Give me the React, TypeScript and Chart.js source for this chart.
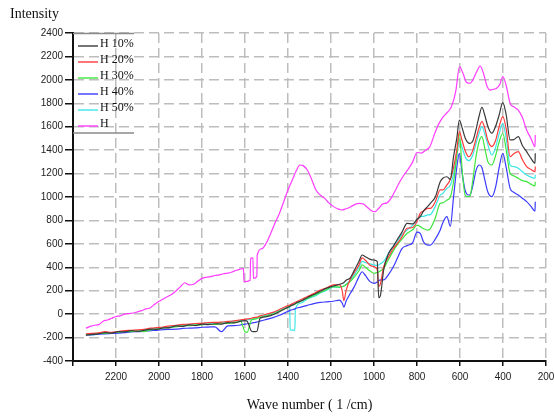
import React, { useEffect, useRef } from "react";
import { Chart, registerables } from "chart.js";

Chart.register(...registerables);

// Wave numbers shared by the five sample spectra (1/cm)
const waveNumbers = [
  2340, 2310, 2280, 2250, 2220, 2190, 2160, 2130, 2100, 2070,
  2040, 2010, 1980, 1950, 1920, 1890, 1860, 1830, 1800, 1770,
  1740, 1710, 1680, 1650, 1620, 1600, 1590, 1570, 1560, 1545,
  1530, 1500, 1470, 1440, 1410, 1392, 1390, 1368, 1366, 1340,
  1310, 1280, 1250, 1220, 1190, 1160, 1148, 1140, 1130, 1110,
  1090, 1070, 1055, 1040, 1020, 1000, 985, 978, 970, 955,
  932, 910, 893, 870, 846, 820, 800, 785, 770, 750,
  738, 715, 692, 680, 661, 645, 630, 615, 603, 590,
  575, 560, 553, 540, 525, 510, 498, 485, 470, 452,
  435, 418, 401, 385, 367, 350, 329, 310, 290, 270,
  251, 250,
];

const h10 = [
  -180, -172, -168, -158, -162, -150, -152, -140, -148, -138,
  -128, -130, -118, -115, -100, -105, -92, -98, -85, -90,
  -82, -85, -72, -75, -60, -55, -60, -145, -150, -148,
  -35, -22, -5, 20, 50, 65, 68, 88, 92, 112,
  142, 168, 195, 222, 240, 255, 262, 270, 290, 310,
  380, 450, 505, 490, 470, 462, 450, 140, 160, 377,
  519, 580, 633, 700, 775, 770, 810, 832, 880, 920,
  946, 1000, 1131, 1160, 1173, 1150, 1344, 1500, 1657, 1590,
  1500, 1460, 1458, 1480, 1580, 1700, 1766, 1700, 1600, 1544,
  1600, 1700, 1806, 1700, 1487, 1490, 1515, 1440, 1387, 1330,
  1288, 1373,
];

const h20 = [
  -168, -165, -160, -150, -155, -148, -140, -138, -135, -130,
  -120, -115, -110, -100, -95, -88, -85, -80, -78, -72,
  -70, -68, -62, -58, -48, -45, -40, -35, -30, -25,
  -15, 0, 15, 40, 65, 78, 80, 100, 102, 125,
  150, 175, 205, 225, 250, 250, 200, 115, 200, 300,
  360, 420, 480, 460, 420, 405, 380, 234, 260, 405,
  490, 560, 600, 660, 733, 740, 790, 861, 880, 903,
  903, 960, 1060, 1060, 1103, 1150, 1250, 1400, 1558, 1480,
  1390, 1344, 1350, 1400, 1500, 1600, 1643, 1590, 1480, 1430,
  1480, 1600, 1686, 1580, 1344, 1370, 1387, 1320, 1259, 1235,
  1216, 1260,
];

const h30 = [
  -175, -170, -162, -165, -158, -155, -148, -150, -142, -150,
  -135, -128, -118, -115, -108, -100, -98, -92, -92, -85,
  -88, -80, -78, -72, -62, -150, -155, -50, -45, -38,
  -28, -15, 0, 25, 50, 68, 70, 85, 88, 110,
  135, 160, 185, 210, 235, 230, 235, 240, 250, 280,
  320, 370, 420, 400, 370, 349, 355, 360, 370, 391,
  470, 540, 590, 640, 690, 720, 760, 747, 730, 718,
  730, 820, 946, 950, 974, 1000, 1130, 1350, 1544, 1230,
  1010, 1003, 1010, 1150, 1350, 1480, 1515, 1420, 1300, 1273,
  1350, 1470, 1544, 1400, 1202, 1180, 1160, 1140, 1131, 1110,
  1095, 1130,
];

const h40 = [
  -178, -175, -170, -168, -165, -162, -158, -152, -150, -148,
  -140, -138, -132, -130, -128, -122, -120, -118, -112, -110,
  -108, -150, -100, -98, -92, -85, -82, -78, -72, -68,
  -60, -45, -30, -10, 15, 30, 32, 45, 48, 60,
  75, 90, 100, 105, 110, 120, 95, 60, 110, 178,
  240, 320, 362, 330, 280, 263, 275, 285, 292, 292,
  340, 405, 470, 560, 585, 610, 700, 690, 618, 590,
  590, 640, 718, 780, 832, 750, 1000, 1250, 1373, 1200,
  1050, 1017, 1020, 1100, 1230, 1273, 1250, 1150, 1040, 1003,
  1080, 1250, 1373, 1250, 1074, 1040, 1017, 990, 960, 920,
  880, 960,
];

const h50 = [
  -172, -178, -168, -165, -160, -158, -150, -148, -140, -138,
  -128, -120, -115, -108, -100, -95, -90, -85, -80, -78,
  -75, -70, -65, -60, -55, -50, -48, -42, -38, -32,
  -22, -8, 8, 30, 55, 68, -135, -138, 40, 95,
  130, 150, 180, 205, 230, 230, 235, 240, 255, 290,
  340, 400, 450, 440, 430, 420, 415, 420, 430, 450,
  519, 580, 620, 680, 718, 760, 800, 832, 835, 847,
  850, 920, 1017, 1030, 1074, 1100, 1200, 1350, 1487, 1420,
  1340, 1310, 1316, 1360, 1460, 1550, 1600, 1540, 1444, 1358,
  1420, 1540, 1629, 1500, 1273, 1260, 1245, 1215, 1188, 1170,
  1160, 1190,
];

// Pure H spectrum (own wave-number sampling)
const waveH = [
  2340, 2320, 2300, 2280, 2260, 2240, 2220, 2200, 2180, 2160,
  2140, 2120, 2100, 2080, 2060, 2040, 2020, 2000, 1980, 1960,
  1940, 1920, 1900, 1880, 1860, 1840, 1820, 1800, 1780, 1760,
  1740, 1720, 1700, 1680, 1660, 1640, 1620, 1607, 1605, 1576,
  1574, 1563, 1561, 1545, 1543, 1520, 1500, 1480, 1460, 1440,
  1420, 1400, 1380, 1360, 1345, 1330, 1310, 1290, 1270, 1250,
  1230, 1210, 1190, 1170, 1150, 1130, 1110, 1090, 1070, 1050,
  1030, 1010, 995, 980, 960, 940, 920, 900, 880, 860,
  840, 820, 800, 780, 760, 740, 720, 700, 680, 660,
  640, 620, 602, 585, 570, 553, 540, 525, 506, 490,
  475, 460, 445, 430, 415, 401, 385, 367, 350, 330,
  310, 290, 270, 251, 250,
];

const intensityH = [
  -120, -105, -95, -90, -60, -50, -35, -20, -15, 0,
  5, 10, 20, 30, 45, 55, 85, 110, 130, 150,
  170, 200, 235, 268, 250, 255, 280, 305, 315, 320,
  330, 335, 345, 350, 360, 375, 385, 391, 277, 290,
  477, 480, 306, 320, 505, 560, 610, 690, 780, 860,
  960, 1060, 1145, 1230, 1273, 1268, 1230, 1150, 1060, 1017,
  990, 950, 920, 900, 889, 900, 915, 935, 946, 940,
  910, 880, 875, 900, 940, 950, 990, 1060, 1130, 1190,
  1240, 1300, 1380, 1375, 1400, 1430, 1530, 1620, 1680, 1720,
  1770, 1900, 2113, 2050, 1980, 1971, 2000, 2060, 2118, 2050,
  1950, 1913, 1920, 1928, 1960, 2027, 1950, 1800, 1770, 1743,
  1680, 1572, 1500, 1430, 1530,
];

const seriesLabels = ["H 10%", "H 20%", "H 30%", "H 40%", "H 50%", "H"];
const seriesColors = ["#3a3a3a", "#ff3b3b", "#3ee63e", "#3b3bff", "#3ee6e6", "#ff3cff"];

const X_MIN = 200;
const X_MAX = 2400;
const Y_MIN = -400;
const Y_MAX = 2400;
const STEP = 200;

const toPoints = (xs: number[], ys: number[]) => xs.map((x, i) => ({ x, y: ys[i] }));

const overlayPlugin = {
  id: "overlay",
  afterDraw(chart: any) {
    const { ctx, chartArea } = chart;
    ctx.save();
    const lx = chartArea.left;
    const ly = chartArea.top;
    ctx.strokeStyle = "#8a8a8a";
    ctx.lineWidth = 1.5;
    ctx.beginPath();
    ctx.moveTo(lx, ly + 0.5);
    ctx.lineTo(lx + 61, ly + 0.5);
    ctx.moveTo(lx, ly + 100);
    ctx.lineTo(lx + 61, ly + 100);
    ctx.stroke();
    ctx.font = '12px "Liberation Serif"';
    ctx.textBaseline = "middle";
    ctx.textAlign = "left";
    seriesLabels.forEach((label, i) => {
      const y = ly + 11 + i * 16;
      ctx.strokeStyle = seriesColors[i];
      ctx.lineWidth = 2;
      ctx.globalAlpha = 0.7;
      ctx.beginPath();
      ctx.moveTo(lx + 5, y + 2);
      ctx.lineTo(lx + 25, y + 2);
      ctx.stroke();
      ctx.globalAlpha = 1;
      ctx.fillStyle = "#111";
      ctx.fillText(label, lx + 27, y);
    });
    ctx.fillStyle = "#111";
    ctx.font = '14px "Liberation Serif"';
    ctx.textAlign = "left";
    ctx.fillText("Intensity", 10, 14);
    ctx.textAlign = "center";
    ctx.fillText("Wave number ( 1 /cm)", (chartArea.left + chartArea.right) / 2, 405);
    ctx.restore();
  },
};

export default function App() {
  const ref = useRef<HTMLCanvasElement>(null);
  useEffect(() => {
    if (!ref.current) return;
    const sampleSets = [h10, h20, h30, h40, h50];
    const datasets: any[] = sampleSets.map((ys, i) => ({
      label: seriesLabels[i],
      data: toPoints(waveNumbers, ys),
      borderColor: seriesColors[i],
      borderWidth: 1.2,
      pointRadius: 0,
      fill: false,
      cubicInterpolationMode: "monotone",
    }));
    datasets.push({
      label: seriesLabels[5],
      data: toPoints(waveH, intensityH),
      borderColor: seriesColors[5],
      borderWidth: 1.2,
      pointRadius: 0,
      fill: false,
      cubicInterpolationMode: "monotone",
    });
    const tickFont = { family: '"Liberation Sans", Arial, sans-serif', size: 10 };
    const chart = new Chart(ref.current, {
      type: "line",
      data: { datasets },
      options: {
        animation: false,
        responsive: false,
        maintainAspectRatio: false,
        layout: { padding: { left: 0, right: 8, top: 33, bottom: 0 } },
        plugins: { legend: { display: false }, tooltip: { enabled: false } },
        elements: { point: { radius: 0 } },
        scales: {
          x: {
            type: "linear",
            reverse: true,
            min: X_MIN,
            max: X_MAX,
            afterFit: (s: any) => {
              s.height = 55;
              s.paddingLeft = 0;
              s.paddingRight = 0;
            },
            ticks: {
              stepSize: STEP,
              autoSkip: false,
              maxRotation: 0,
              padding: 5,
              color: "#222",
              font: tickFont,
              callback: (v: any) => (v === X_MAX ? "" : String(v)),
            },
            grid: {
              color: "#bdbdbd",
              lineWidth: 1.5,
              tickLength: 5,
              tickColor: "#111",
              tickWidth: 1.5,
            },
            border: { display: true, color: "#111", width: 2, dash: [10, 5] },
          },
          y: {
            min: Y_MIN,
            max: Y_MAX,
            afterFit: (s: any) => {
              s.width = 73;
              s.paddingTop = 0;
              s.paddingBottom = 0;
            },
            ticks: {
              stepSize: STEP,
              autoSkip: false,
              padding: 2,
              color: "#222",
              font: tickFont,
              callback: (v: any) => String(v),
            },
            grid: {
              color: "#bdbdbd",
              lineWidth: 1.5,
              tickLength: 8,
              tickColor: "#111",
              tickWidth: 1.5,
            },
            border: { display: true, color: "#111", width: 2, dash: [10, 5] },
          },
        },
      } as any,
      plugins: [overlayPlugin],
    });
    return () => chart.destroy();
  }, []);
  return (
    <div style={{ position: "fixed", left: 0, top: 0, width: 554, height: 416, background: "#fff" }}>
      <canvas ref={ref} width={554} height={416} style={{ display: "block" }} />
    </div>
  );
}
